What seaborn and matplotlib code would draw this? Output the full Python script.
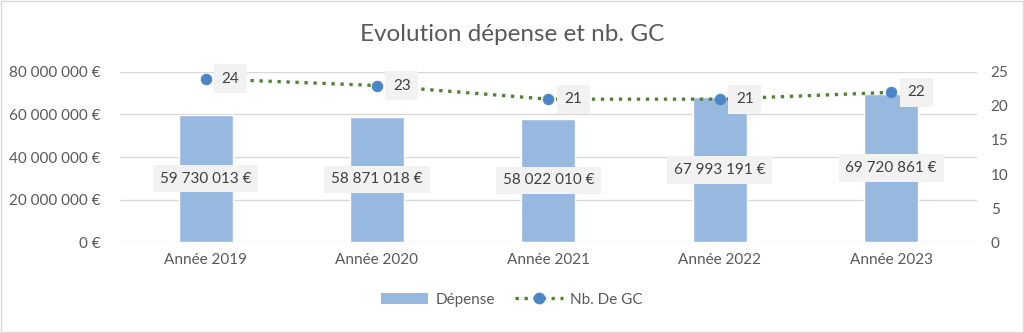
import matplotlib
matplotlib.use("Agg")
import matplotlib.pyplot as plt
import seaborn as sns
import pandas as pd
import numpy as np
from matplotlib.lines import Line2D
from matplotlib.patches import Patch, Rectangle
import matplotlib.ticker as mticker

categories = ["Année 2019", "Année 2020", "Année 2021", "Année 2022", "Année 2023"]
depense = [59730013, 58871018, 58022010, 67993191, 69720861]
nb_gc = [24, 23, 21, 21, 22]
left_ticks = [0, 20000000, 40000000, 60000000, 80000000]
right_ticks = [0, 5, 10, 15, 20, 25]

BAR = "#97B9E0"
LINE = "#548235"
MARK = "#4A86C5"
TXT = "#595959"
LBL = "#404040"
GRID = "#D9D9D9"

sns.set_theme(style="white")
plt.rcParams['font.family'] = ['Lato', 'DejaVu Sans']

def eur(v):
    return f"{int(round(v)):,}".replace(",", " ") + " €"

fig = plt.figure(figsize=(10.24, 3.33), dpi=100)
ax = fig.add_axes([0.117, 0.273, 0.837, 0.511])
df = pd.DataFrame({"annee": categories, "depense": depense, "nb": nb_gc})
sns.barplot(data=df, x="annee", y="depense", color=BAR, width=0.315,
            saturation=1, ax=ax, zorder=2)
ax.set_xlim(-0.5, len(categories) - 0.5)
ax.set_ylim(0, 80e6)
ax.set_yticks(left_ticks)
ax.yaxis.set_major_formatter(mticker.FuncFormatter(lambda v, p: eur(v)))
ax.grid(axis='y', color=GRID, lw=1, zorder=0)
ax.set_axisbelow(True)
for s in ax.spines.values():
    s.set_visible(False)
ax.set_xlabel("")
ax.set_ylabel("")
ax.tick_params(axis='both', length=0, labelsize=11, labelcolor=TXT)
ax.tick_params(axis='y', pad=14)
ax.tick_params(axis='x', pad=8)

for i, v in enumerate(depense):
    ax.text(i, v / 2, eur(v), ha='center', va='center', fontsize=11, color=LBL,
            bbox=dict(boxstyle='square,pad=0.45', facecolor='#F2F2F2', edgecolor='none'),
            zorder=5)

ax2 = ax.twinx()
sns.lineplot(x=np.arange(len(categories)), y=nb_gc, ax=ax2, color=LINE,
             linestyle=(0, (1, 1.7)), linewidth=2.4, marker='o', markersize=7.5,
             markerfacecolor=MARK, markeredgecolor=MARK, zorder=4)
ax2.set_ylim(0, 25)
ax2.set_yticks(right_ticks)
for s in ax2.spines.values():
    s.set_visible(False)
ax2.set_ylabel("")
ax2.tick_params(axis='y', length=0, labelsize=11, labelcolor=TXT, pad=10)
ax2.grid(False)
for i, v in enumerate(nb_gc):
    ax2.annotate(str(v), (i, v), xytext=(25, 0), textcoords='offset pixels',
                 ha='center', va='center', fontsize=11, color=LBL,
                 bbox=dict(boxstyle='square,pad=0.5', facecolor='#F2F2F2', edgecolor='none'),
                 zorder=6)

fig.text(0.5, 0.895, "Evolution dépense et nb. GC", ha='center', va='center',
         fontsize=17.5, color=TXT)

handles = [Patch(facecolor=BAR, edgecolor='none', label="Dépense"),
           Line2D([0], [0], color=LINE, linestyle=(0, (1, 1.7)), linewidth=2.4,
                  marker='o', markersize=7.5, markerfacecolor=MARK, markeredgecolor=MARK,
                  label="Nb. De GC")]
leg = fig.legend(handles=handles, loc='center', bbox_to_anchor=(0.5, 0.1), ncol=2,
                 frameon=False, fontsize=11, handlelength=3.1, columnspacing=1.3,
                 handletextpad=0.5)
for t in leg.get_texts():
    t.set_color(TXT)

fig.patches.append(Rectangle((0.001, 0.002), 0.998, 0.996, transform=fig.transFigure,
                             fill=False, edgecolor=GRID, lw=1))
fig.savefig("out.png", dpi=100, facecolor='white')
